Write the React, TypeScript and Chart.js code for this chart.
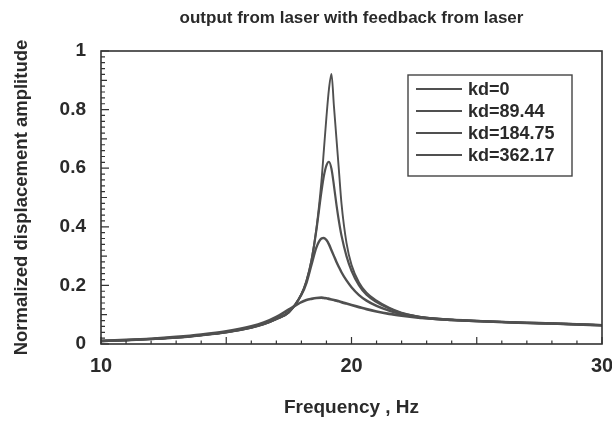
import React, { useEffect, useRef } from "react";
import { Chart, registerables } from "chart.js";

Chart.register(...registerables);

const TITLE = "output from laser with feedback from laser";
const X_TITLE = "Frequency , Hz";
const Y_TITLE = "Normalized displacement amplitude";
const SERIES_LABELS = ["kd=0", "kd=89.44", "kd=184.75", "kd=362.17"];

const FREQ = [10, 11, 12, 13, 14, 15, 16, 16.5, 17, 17.5, 18, 18.2, 18.4, 18.6, 18.8, 18.9, 19.0, 19.1, 19.2, 19.3, 19.4, 19.5, 19.6, 19.8, 20.0, 20.3, 20.6, 21.0, 21.5, 22, 22.5, 23, 24, 25, 26, 27, 28, 29, 30];

const KD_0 = [0.010, 0.013, 0.017, 0.022, 0.030, 0.040, 0.056, 0.068, 0.085, 0.108, 0.170, 0.215, 0.285, 0.395, 0.555, 0.665, 0.775, 0.870, 0.922, 0.810, 0.700, 0.590, 0.480, 0.345, 0.270, 0.210, 0.175, 0.148, 0.124, 0.107, 0.097, 0.090, 0.083, 0.079, 0.075, 0.072, 0.070, 0.067, 0.064];
const KD_89 = [0.010, 0.013, 0.017, 0.022, 0.030, 0.040, 0.056, 0.068, 0.085, 0.108, 0.170, 0.214, 0.283, 0.390, 0.520, 0.575, 0.610, 0.622, 0.598, 0.540, 0.475, 0.418, 0.370, 0.300, 0.250, 0.200, 0.168, 0.143, 0.121, 0.105, 0.096, 0.089, 0.083, 0.079, 0.075, 0.072, 0.070, 0.067, 0.064];
const KD_184 = [0.010, 0.013, 0.017, 0.022, 0.030, 0.040, 0.056, 0.068, 0.086, 0.110, 0.168, 0.208, 0.270, 0.330, 0.360, 0.362, 0.355, 0.340, 0.320, 0.300, 0.280, 0.262, 0.245, 0.217, 0.194, 0.167, 0.148, 0.130, 0.114, 0.102, 0.094, 0.088, 0.082, 0.078, 0.075, 0.072, 0.070, 0.067, 0.064];
const KD_362 = [0.011, 0.014, 0.018, 0.024, 0.032, 0.043, 0.060, 0.073, 0.092, 0.118, 0.143, 0.150, 0.154, 0.157, 0.158, 0.157, 0.156, 0.154, 0.152, 0.150, 0.148, 0.146, 0.143, 0.138, 0.133, 0.126, 0.119, 0.111, 0.103, 0.097, 0.092, 0.088, 0.082, 0.078, 0.075, 0.072, 0.070, 0.067, 0.064];

const SERIES = [KD_0, KD_89, KD_184, KD_362];
const LINE_WIDTHS = [1.9, 2.2, 2.4, 2.7];

const TEXT_COLOR = "#2a2a2a";
const LINE_COLOR = "#505050";
const FONT = "'Liberation Sans', Arial, sans-serif";

const framePlugin = {
  id: "frameTicksLegend",
  afterDatasetsDraw(chart: any) {
    const { ctx, chartArea: a, scales } = chart;
    const x = scales.x;
    const y = scales.y;
    ctx.save();
    ctx.strokeStyle = "#333333";
    ctx.lineWidth = 1.6;
    ctx.strokeRect(a.left, a.top, a.right - a.left, a.bottom - a.top);
    ctx.lineWidth = 1.2;
    ctx.beginPath();
    for (let i = 0; i <= 20; i++) {
      const f = 10 + i;
      const px = x.getPixelForValue(f);
      const len = f % 5 === 0 ? 7 : 3.5;
      ctx.moveTo(px, a.bottom);
      ctx.lineTo(px, a.bottom - len);
    }
    for (let i = 0; i <= 50; i++) {
      const py = y.getPixelForValue(i * 0.02);
      const len = i % 10 === 0 ? 8 : i % 5 === 0 ? 6 : 4;
      ctx.moveTo(a.left, py);
      ctx.lineTo(a.left + len, py);
    }
    ctx.stroke();

    // legend box
    const bw = 164;
    const bh = 101;
    const bx = a.right - 30 - bw;
    const by = a.top + 24;
    ctx.fillStyle = "#ffffff";
    ctx.fillRect(bx, by, bw, bh);
    ctx.strokeStyle = "#444444";
    ctx.lineWidth = 1.4;
    ctx.strokeRect(bx, by, bw, bh);
    ctx.font = `bold 18px ${FONT}`;
    ctx.textBaseline = "middle";
    ctx.textAlign = "left";
    chart.data.datasets.forEach((ds: any, i: number) => {
      const ry = by + 14 + i * 22;
      ctx.strokeStyle = ds.borderColor;
      ctx.lineWidth = 2;
      ctx.beginPath();
      ctx.moveTo(bx + 8, ry);
      ctx.lineTo(bx + 54, ry);
      ctx.stroke();
      ctx.fillStyle = TEXT_COLOR;
      ctx.fillText(ds.label, bx + 60, ry + 1);
    });
    ctx.restore();
  },
};

export default function App() {
  const canvasRef = useRef<HTMLCanvasElement | null>(null);

  useEffect(() => {
    if (!canvasRef.current) return;
    const chart = new Chart(canvasRef.current, {
      type: "line",
      data: {
        datasets: SERIES.map((vals, i) => ({
          label: SERIES_LABELS[i],
          data: FREQ.map((f, j) => ({ x: f, y: vals[j] })),
          borderColor: LINE_COLOR,
          borderWidth: LINE_WIDTHS[i],
          pointRadius: 0,
          fill: false,
          cubicInterpolationMode: "monotone" as const,
        })),
      },
      options: {
        responsive: false,
        animation: false,
        layout: { padding: { left: 0, right: 10, top: 0, bottom: 0 } },
        plugins: {
          legend: { display: false },
          tooltip: { enabled: false },
          title: {
            display: true,
            text: TITLE,
            fullSize: false,
            color: TEXT_COLOR,
            font: { family: FONT, size: 17, weight: "bold" },
            padding: { top: 7.8, bottom: 22.8 },
          },
        },
        scales: {
          x: {
            type: "linear",
            min: 10,
            max: 30,
            grid: { display: false, drawTicks: false },
            border: { display: false },
            ticks: {
              stepSize: 10,
              padding: 10,
              maxRotation: 0,
              color: TEXT_COLOR,
              font: { family: FONT, size: 20, weight: "bold" },
            },
            title: {
              display: true,
              text: X_TITLE,
              color: TEXT_COLOR,
              font: { family: FONT, size: 19, weight: "bold" },
              padding: { top: 0, bottom: 2 },
            },
            afterFit: (s: any) => {
              s.height = 77;
              s.paddingLeft = 0;
              s.paddingRight = 0;
            },
          },
          y: {
            type: "linear",
            min: 0,
            max: 1,
            grid: { display: false, drawTicks: false },
            border: { display: false },
            ticks: {
              stepSize: 0.2,
              padding: 15,
              color: TEXT_COLOR,
              font: { family: FONT, size: 19, weight: "bold" },
              callback: (v: any) => String(Number(Number(v).toFixed(1))),
            },
            title: {
              display: true,
              text: Y_TITLE,
              color: TEXT_COLOR,
              font: { family: FONT, size: 18.5, weight: "bold" },
              padding: { top: 11, bottom: 0 },
            },
            afterFit: (s: any) => {
              s.width = 101;
              s.paddingTop = 0;
              s.paddingBottom = 0;
            },
          },
        },
      },
      plugins: [framePlugin],
    });
    return () => chart.destroy();
  }, []);

  return (
    <div style={{ position: "fixed", left: 0, top: 0, width: 612, height: 421, background: "#ffffff" }}>
      <canvas ref={canvasRef} width={612} height={421} />
    </div>
  );
}
